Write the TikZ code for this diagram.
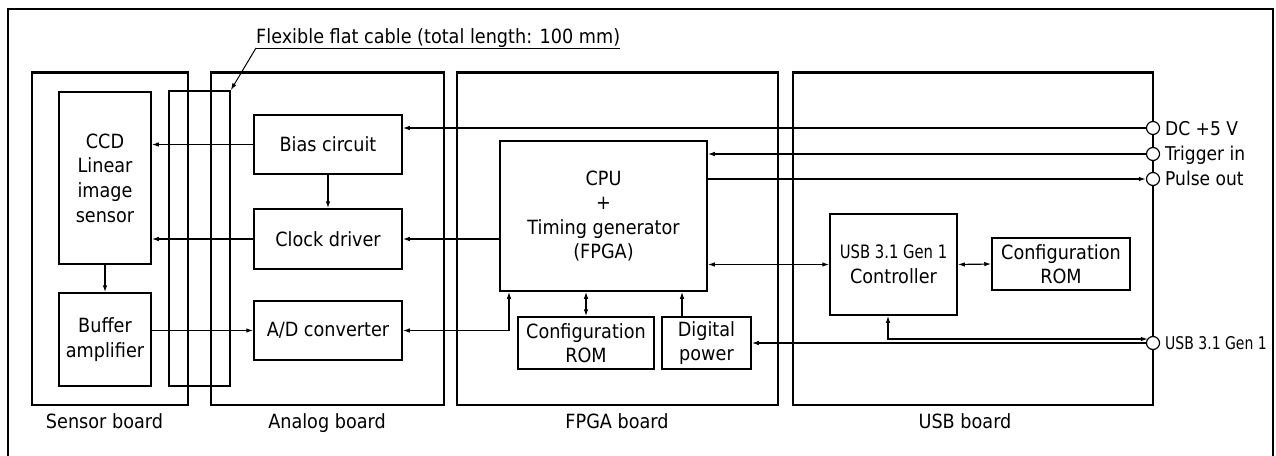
\documentclass[tikz,border=0pt]{standalone}
\usepackage{fontspec}
\setmainfont{DejaVu Sans}[FakeStretch=0.9]
\newfontfamily\usbfam{DejaVu Sans}[FakeStretch=0.8]
\usetikzlibrary{arrows.meta,calc}
\newcommand\mainfs{\fontsize{19.6}{24.6}\selectfont}
\newcommand\connfs{\fontsize{19}{23}\selectfont}
\newcommand\usbfs{\usbfam\fontsize{18.5}{24.6}\selectfont}
\newcommand\usblfs{\usbfam\fontsize{17.5}{22}\selectfont}
\begin{document}
\begin{tikzpicture}[x=1pt,y=-1pt,
  board/.style={draw,line width=2.6pt,inner sep=0pt},
  blk/.style={draw,line width=1.5pt,inner sep=0pt,align=center,font=\mainfs},
  cable/.style={draw,line width=1.6pt,inner sep=0pt},
  conn/.style={line width=1.2pt},
  arr/.style={conn,-{Latex[length=7pt,width=4.5pt]}},
  dbl/.style={conn,{Latex[length=7pt,width=4.5pt]}-{Latex[length=7pt,width=4.5pt]}},
  port/.style={circle,draw,line width=1.2pt,minimum size=13pt,inner sep=0pt,fill=white},
  txt/.style={inner sep=0pt,font=\mainfs},
  plbl/.style={inner sep=0pt,anchor=base west,font=\connfs}]
\useasboundingbox (0,0) rectangle (1276,455);
% outer frame
\draw[line width=2pt] (7.5,457) -- (7.5,9) -- (1272.5,9) -- (1272.5,457);

% boards
\node[board,minimum width=156,minimum height=332.5] (sb) at (110,238.75) {};
\node[board,minimum width=233,minimum height=332.5] (ab) at (327.5,238.75) {};
\node[board,minimum width=321,minimum height=332.5] (fb) at (617.5,238.75) {};
\node[board,minimum width=360,minimum height=332.5] (ub) at (973,238.75) {};

\node[txt,anchor=base] (sbl) at (104.5,428) {Sensor board};
\node[txt,anchor=base] (abl) at (327,428) {Analog board};
\node[txt,anchor=base] (fbl) at (617,428) {FPGA board};
\node[txt,anchor=base] (ubl) at (965,428) {USB board};

% flexible cable
\node[cable,minimum width=61,minimum height=295] (flex) at (199.5,238.5) {};
\node[txt,anchor=base west] (flexlbl) at (256,43) {Flexible flat cable (total length: 100 mm)};
\coordinate (ul) at (256,48);
\draw[line width=1pt] (ul) -- (ul -| flexlbl.east);
\draw[line width=1pt,-{Latex[length=7pt,width=4.5pt]}] (ul) -- (flex.north east);

% sensor board blocks
\node[blk,minimum width=92,minimum height=172] (ccd) at (105,178) {CCD\\Linear\\image\\sensor};
\node[blk,minimum width=92,minimum height=93] (buf) at (105,339.5) {Buffer\\amplifier};

% analog board blocks
\node[blk,minimum width=148,minimum height=59] (bias) at (328,144.5) {Bias circuit};
\node[blk,minimum width=148,minimum height=60] (clk) at (328,239) {Clock driver};
\node[blk,minimum width=148,minimum height=59] (ad) at (328,330.5) {A/D converter};

% FPGA board blocks
\node[blk,minimum width=207,minimum height=150] (cpu) at (603.5,216) {CPU\\+\\Timing generator\\(FPGA)};
\node[blk,minimum width=136,minimum height=52] (rom1) at (586,343) {Configuration\\ROM};
\node[blk,minimum width=89,minimum height=52] (dig) at (706.5,343) {Digital\\power};

% USB board blocks
\node[blk,minimum width=127,minimum height=101] (ctrl) at (893.5,264.5) {{\usbfs USB 3.1 Gen 1}\\Controller};
\node[blk,minimum width=138,minimum height=52] (rom2) at (1061,264) {Configuration\\ROM};

% ports
\node[port] (dc) at (1153,128) {};
\node[port] (trig) at (1153,154) {};
\node[port] (pulse) at (1153,179) {};
\node[port] (usbc) at (1153,343) {};
\node[plbl] (dcl) at (1165,135.5) {DC +5 V};
\node[plbl] (trigl) at (1165,160.5) {Trigger in};
\node[plbl] (pulsel) at (1165,185.5) {Pulse out};
\node[plbl,font=\usblfs] (usbl) at (1165,349.5) {USB 3.1 Gen 1};

% connections
\draw[arr] (dc.west) -- (dc.west -| bias.east);
\draw[arr] (trig.west) -- (trig.west -| cpu.east);
\draw[arr] (pulse.west -| cpu.east) -- (pulse.west);
\draw[arr] (bias.west) -- (bias.west -| ccd.east);
\draw[arr] (bias.south) -- (clk.north);
\draw[arr] (clk.west) -- (clk.west -| ccd.east);
\draw[arr] (clk.east -| cpu.west) -- (clk.east);
\draw[arr] (ccd.south) -- (buf.north);
\draw[arr] (ad.west -| buf.east) -- (ad.west);
\coordinate (adx) at (509,0);
\draw[dbl] (ad.east) -| (cpu.south -| adx);
\draw[dbl] (cpu.south -| rom1.north) -- (rom1.north);
\coordinate (dpx) at (682,0);
\draw[arr] (dig.north -| dpx) -- (cpu.south -| dpx);
\draw[dbl] (ctrl.west -| cpu.east) -- (ctrl.west);
\draw[dbl] (ctrl.east) -- (rom2.west);
\coordinate (ux) at (888,0);
\coordinate (usbtip) at ($(usbc.center)+(-5.1,-4)$);
\draw[dbl] (ctrl.south -| ux) |- (usbtip);
\draw[arr] (usbc.west) -- (usbc.west -| dig.east);
\end{tikzpicture}
\end{document}
